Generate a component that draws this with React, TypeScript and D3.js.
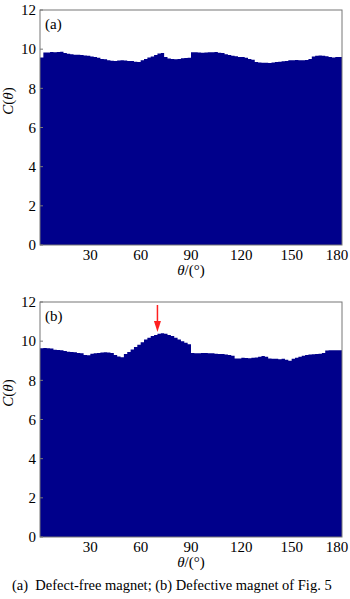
import React from "react";
import * as d3 from "d3";

const binWidth = 2;
const seriesA = [
  9.58,
  9.83, 9.83, 9.85, 9.84,
  9.86, 9.87,
  9.8, 9.76, 9.74,
  9.72, 9.72, 9.7, 9.68,
  9.66, 9.62, 9.6, 9.56,
  9.5, 9.48,
  9.43, 9.41, 9.4, 9.42,
  9.44, 9.42, 9.4, 9.39,
  9.36, 9.34,
  9.44, 9.5,
  9.58, 9.62, 9.7,
  9.78, 9.8,
  9.6, 9.52,
  9.5, 9.48, 9.5,
  9.54, 9.55, 9.56, 9.84,
  9.84, 9.83, 9.82, 9.83, 9.84, 9.84,
  9.86, 9.82, 9.8,
  9.74, 9.7, 9.66, 9.64, 9.6,
  9.6, 9.56, 9.5, 9.46,
  9.35, 9.32, 9.31, 9.31, 9.3, 9.32,
  9.34, 9.36, 9.38, 9.4,
  9.44, 9.44, 9.45, 9.44,
  9.44, 9.45, 9.5,
  9.62, 9.66, 9.68,
  9.66, 9.64, 9.6, 9.58,
  9.6, 9.6,
];
const seriesB = [
  9.64, 9.65, 9.64, 9.62,
  9.56, 9.55, 9.54, 9.5,
  9.46, 9.45, 9.43, 9.4, 9.38,
  9.3, 9.28,
  9.36, 9.38, 9.4,
  9.42, 9.43, 9.42, 9.4,
  9.3,
  9.22, 9.18,
  9.35,
  9.45, 9.58,
  9.7, 9.82,
  9.95, 10.08,
  10.18, 10.26,
  10.32, 10.38,
  10.4, 10.38,
  10.32, 10.26,
  10.18, 10.08,
  10.0, 9.92,
  9.84, 9.4,
  9.38, 9.38, 9.4, 9.4, 9.38, 9.38, 9.36, 9.35, 9.34, 9.32,
  9.3, 9.25,
  9.12, 9.12,
  9.15, 9.14, 9.13, 9.15, 9.16, 9.2,
  9.24, 9.2,
  9.12, 9.1, 9.1, 9.08, 9.1,
  9.05, 9.0,
  9.1, 9.15, 9.2,
  9.25, 9.3, 9.32, 9.33, 9.35, 9.36,
  9.4,
  9.52, 9.53, 9.53, 9.54, 9.54,
];
const xTicks = [30, 60, 90, 120, 150, 180];
const yTicks = [0, 2, 4, 6, 8, 10, 12];
const panelLabels = ["(a)", "(b)"];
const arrowTheta = 70;
const caption = "(a)  Defect-free magnet; (b) Defective magnet of Fig. 5";

const FONT = "Liberation Serif, Times New Roman, serif";
const FILL = "#00008b";

function Panel({ data, top, label, arrow }: { data: number[]; top: number; label: string; arrow?: number }) {
  const left = 40, right = 342, height = 235;
  const x = d3.scaleLinear().domain([0, 180]).range([left, right]);
  const y = d3.scaleLinear().domain([0, 12]).range([top + height, top]);
  const pts = data.map((v, i) => [i * binWidth, v] as [number, number]);
  pts.push([data.length * binWidth, data[data.length - 1]]);
  const area = d3
    .area<[number, number]>()
    .x((d) => x(d[0]))
    .y0(y(0))
    .y1((d) => y(d[1]))
    .curve(d3.curveStepAfter);
  const bottom = top + height;
  return (
    <g>
      <path d={area(pts) || ""} fill={FILL} />
      <rect x={left} y={top} width={right - left} height={height} fill="none" stroke="#777" strokeWidth={1} />
      {yTicks.map((t) => (
        <g key={t}>
          <line x1={left} x2={left + 3} y1={y(t)} y2={y(t)} stroke="#777" />
          <text x={36} y={y(t)} dy="0.35em" textAnchor="end" fontSize={15} fontFamily={FONT} fill="#000">
            {t}
          </text>
        </g>
      ))}
      {xTicks.map((t, i) => (
        <text
          key={t}
          x={x(t) + (i === xTicks.length - 1 ? -5 : 0)}
          y={bottom + 15}
          textAnchor="middle"
          fontSize={15}
          fontFamily={FONT}
          fill="#000"
        >
          {t}
        </text>
      ))}
      <text x={(left + right) / 2} y={bottom + 30} textAnchor="middle" fontSize={15} fontFamily={FONT} fill="#000">
        <tspan fontStyle="italic">θ</tspan>/(°)
      </text>
      <text
        transform={`translate(13, ${top + 91}) rotate(-90)`}
        textAnchor="middle"
        fontSize={15}
        fontFamily={FONT}
        fill="#000"
      >
        <tspan fontStyle="italic">C</tspan>(<tspan fontStyle="italic">θ</tspan>)
      </text>
      <text x={45} y={top + 19} fontSize={15} fontFamily={FONT} fill="#000">
        {label}
      </text>
      {arrow !== undefined && (
        <g>
          <line x1={x(arrow)} x2={x(arrow)} y1={top + 3} y2={top + 22} stroke="#ff2020" strokeWidth={1.5} />
          <path
            d={`M${x(arrow) - 3.5},${top + 19} L${x(arrow) + 3.5},${top + 19} L${x(arrow)},${top + 30} Z`}
            fill="#ff2020"
          />
        </g>
      )}
    </g>
  );
}

export default function App() {
  return (
    <svg width={350} height={599} style={{ position: "absolute", left: 0, top: 0, background: "#fff" }}>
      <Panel data={seriesA} top={10} label={panelLabels[0]} />
      <Panel data={seriesB} top={302} label={panelLabels[1]} arrow={arrowTheta} />
      <text x={12} y={590} fontSize={14.5} fontFamily={FONT} fill="#000" style={{ whiteSpace: "pre" }}>
        {caption}
      </text>
    </svg>
  );
}
